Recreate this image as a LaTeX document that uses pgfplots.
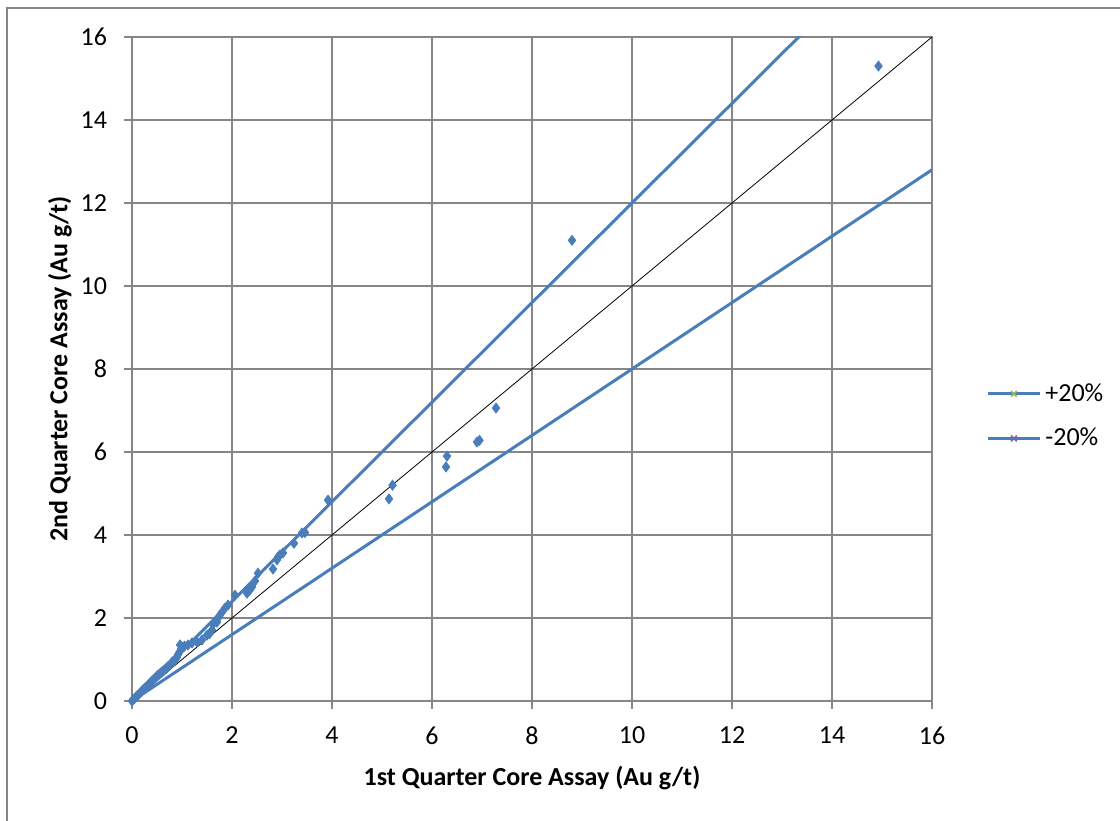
\documentclass[border=0pt]{standalone}
\usepackage{pgfplots}
\pgfplotsset{compat=1.18}
\usepackage{fontspec}
\setmainfont{Carlito}
\definecolor{lineblue}{HTML}{4A7EBB}
\definecolor{gridgray}{HTML}{868686}
\definecolor{xgreen}{HTML}{9BBB59}
\definecolor{xpurple}{HTML}{8064A2}
\begin{document}
\begin{tikzpicture}
\path[use as bounding box] (-66bp,-60bp) rectangle (494bp,350.5bp);
\draw[gridgray, line width=0.8bp] (-62.5bp,-62bp) -- (-62.5bp,346.5bp) -- (496bp,346.5bp);
\begin{axis}[
  at={(0,0)}, anchor=south west,
  scale only axis, width=400bp, height=332bp,
  xmin=0, xmax=16, ymin=0, ymax=16,
  xtick={0,2,...,16}, ytick={0,2,...,16},
  grid=major,
  major grid style={gridgray, line width=1bp},
  axis line style={gridgray, line width=1bp},
  tick style={gridgray, line width=1bp},
  tick align=outside, major tick length=4bp,
  xtick pos=bottom, ytick pos=left,
  /pgf/number format/assume math mode=true,
  font=\fontsize{13bp}{15bp}\selectfont,
  ticklabel style={font=\fontsize{13bp}{15bp}\selectfont},
  xticklabel style={yshift=-5.5bp},
  yticklabel style={xshift=-5bp},
  xlabel={\bfseries 1st Quarter Core Assay (Au g/t)},
  ylabel={\bfseries 2nd Quarter Core Assay (Au g/t)},
  every axis x label/.style={at={(rel axis cs:0.5,-0.116)}, anchor=center},
  every axis y label/.style={at={(rel axis cs:-0.09,0.5)}, anchor=center, rotate=90},
  legend style={at={(rel axis cs:1.0675,0.429)}, anchor=west, draw=none, fill=none,
    font=\fontsize{13bp}{15bp}\selectfont, row sep=8bp, inner sep=0pt},
  legend cell align=left,
]
\addplot[lineblue, line width=1.5bp, no marks,
  legend image code/.code={\draw[lineblue, line width=1.5bp] (0bp,0bp) -- (26bp,0bp);
    \draw[xgreen, line width=0.8bp, mark=x, mark size=2bp] plot coordinates {(13bp,0bp)};}]
  coordinates {(0,0) (16,19.2)};
\addlegendentry{+20\%}
\addplot[lineblue, line width=1.5bp, no marks,
  legend image code/.code={\draw[lineblue, line width=1.5bp] (0bp,0bp) -- (26bp,0bp);
    \draw[xpurple, line width=0.8bp, mark=x, mark size=2bp] plot coordinates {(13bp,0bp)};}]
  coordinates {(0,0) (16,12.8)};
\addlegendentry{-20\%}
\addplot[black, line width=0.4bp, no marks, forget plot] coordinates {(0,0) (16,16)};
\addplot[only marks, mark=diamond*, mark size=2.5bp, lineblue, forget plot] coordinates {
(0.0,0.0) (0.02,0.03) (0.05,0.06) (0.08,0.1) (0.1,0.12) (0.12,0.14) (0.15,0.18) (0.18,0.22)
(0.2,0.24) (0.22,0.27) (0.25,0.3) (0.28,0.33) (0.3,0.35) (0.32,0.38) (0.35,0.42) (0.38,0.45)
(0.4,0.48) (0.42,0.5) (0.45,0.54) (0.48,0.57) (0.5,0.6) (0.52,0.62) (0.55,0.65) (0.58,0.68)
(0.6,0.7) (0.62,0.72) (0.65,0.75) (0.68,0.78) (0.7,0.8) (0.72,0.83) (0.75,0.86) (0.78,0.9)
(0.8,0.93) (0.82,0.95) (0.85,0.98) (0.88,1.02) (0.9,1.06) (0.92,1.12) (0.95,1.18) (0.96,1.35)
(0.98,1.25) (1.0,1.3) (1.05,1.32) (1.12,1.35) (1.2,1.4) (1.3,1.42) (1.4,1.47) (1.5,1.59)
(1.55,1.62) (1.6,1.71) (1.62,1.85) (1.7,1.9) (1.72,2.0) (1.76,2.07) (1.8,2.14) (1.86,2.24)
(1.92,2.31) (2.06,2.55) (2.3,2.6) (2.32,2.63) (2.36,2.68) (2.4,2.75) (2.46,2.89) (2.52,3.08)
(2.82,3.18) (2.9,3.4) (2.92,3.47) (2.96,3.52) (3.02,3.57) (3.24,3.8) (3.4,4.05) (3.46,4.06)
(3.92,4.84) (5.14,4.87) (5.21,5.2) (6.28,5.64) (6.3,5.9) (6.9,6.24) (6.95,6.28) (7.28,7.06)
(8.8,11.1) (14.93,15.3)
};
\end{axis}
\end{tikzpicture}
\end{document}
